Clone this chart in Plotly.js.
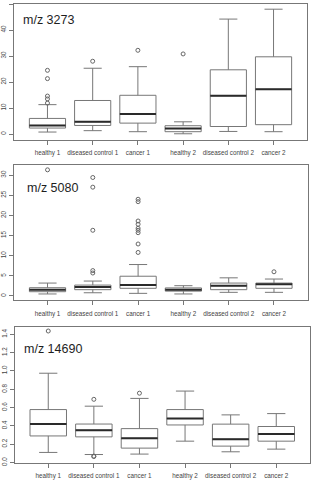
<!DOCTYPE html>
<html>
<head>
<meta charset="utf-8">
<script src="https://cdn.plot.ly/plotly-3.0.1.min.js"></script>
<style>
  html, body { margin: 0; padding: 0; background: #fff; }
  #chart { width: 313px; height: 480px; }
</style>
</head>
<body>
<div id="chart"></div>
<script>
// Group labels shared by all three peaks
const groups = ["healthy 1", "diseased control 1", "cancer 1", "healthy 2", "diseased control 2", "cancer 2"];
const positions = [1, 2, 3, 4, 5, 6];

// m/z 3273 — box statistics per group
const mz3273Low    = [0.77, 1.3, 0.9, 0.1, 1.0, 0.9];
const mz3273Q1     = [2.3, 3.3, 4.2, 0.9, 2.9, 3.6];
const mz3273Median = [3.3, 4.7, 7.7, 2.1, 14.7, 17.2];
const mz3273Q3     = [6.0, 12.9, 14.9, 3.2, 24.7, 29.7];
const mz3273High   = [11.3, 25.3, 25.9, 4.7, 44.2, 48.0];
const mz3273Out    = [[11.9, 13.5, 14.6, 21.3, 24.5], [28.0], [32.2], [30.8], [], []];

// m/z 5080 — box statistics per group
const mz5080Low    = [0.5, 0.8, 0.65, 0.5, 0.9, 0.9];
const mz5080Q1     = [1.06, 1.56, 1.9, 1.2, 1.56, 1.9];
const mz5080Median = [1.56, 2.2, 2.7, 1.56, 2.55, 2.9];
const mz5080Q3     = [2.05, 2.7, 4.9, 2.0, 3.2, 3.2];
const mz5080High   = [3.2, 3.7, 7.8, 2.55, 4.5, 4.2];
const mz5080Out    = [[31.3], [5.7, 6.3, 16.3, 27.0, 29.4],
                      [10.8, 12.9, 15.7, 16.3, 16.8, 17.8, 18.6, 23.4, 24.0], [], [], [6.0]];

// m/z 14690 — box statistics per group
const mz14690Low    = [0.11, 0.087, 0.092, 0.233, 0.117, 0.146];
const mz14690Q1     = [0.29, 0.28, 0.157, 0.41, 0.179, 0.233];
const mz14690Median = [0.42, 0.353, 0.264, 0.48, 0.255, 0.31];
const mz14690Q3     = [0.578, 0.42, 0.37, 0.578, 0.419, 0.393];
const mz14690High   = [0.975, 0.615, 0.70, 0.78, 0.52, 0.534];
const mz14690Out    = [[1.436], [0.065, 0.07, 0.69], [0.757], [], [], []];

const panelTitles = ["m/z 3273", "m/z 5080", "m/z 14690"];

const BOX_W = 0.8;
const LINE = "#777";
const TEXT = "#444";
const FONT = "Liberation Sans, Arial, sans-serif";

function panelTraces(idx, low, q1, med, q3, high, outs) {
  const xa = idx === 1 ? "x" : "x" + idx;
  const ya = idx === 1 ? "y" : "y" + idx;
  const box = {
    type: "box", xaxis: xa, yaxis: ya,
    x: positions, q1: q1, median: med, q3: q3,
    lowerfence: low, upperfence: high,
    width: BOX_W, whiskerwidth: 0.5,
    fillcolor: "rgba(255,255,255,0)",
    line: { color: LINE, width: 1 },
    boxpoints: false, hoverinfo: "skip", showlegend: false
  };
  // thick median bars drawn over each box
  const mx = [], my = [];
  positions.forEach((p, i) => {
    mx.push(p - BOX_W / 2, p + BOX_W / 2, null);
    my.push(med[i], med[i], null);
  });
  const medians = {
    type: "scatter", mode: "lines", xaxis: xa, yaxis: ya,
    x: mx, y: my, line: { color: "#2a2a2a", width: 2 },
    hoverinfo: "skip", showlegend: false
  };
  const ox = [], oy = [];
  outs.forEach((list, i) => list.forEach(v => { ox.push(positions[i]); oy.push(v); }));
  const outliers = {
    type: "scatter", mode: "markers", xaxis: xa, yaxis: ya,
    x: ox, y: oy,
    marker: { symbol: "circle-open", size: 4, color: "#666", line: { width: 1, color: "#666" } },
    hoverinfo: "skip", showlegend: false
  };
  return [box, medians, outliers];
}

const data = [].concat(
  panelTraces(1, mz3273Low, mz3273Q1, mz3273Median, mz3273Q3, mz3273High, mz3273Out),
  panelTraces(2, mz5080Low, mz5080Q1, mz5080Median, mz5080Q3, mz5080High, mz5080Out),
  panelTraces(3, mz14690Low, mz14690Q1, mz14690Median, mz14690Q3, mz14690High, mz14690Out)
);

const W = 313, H = 480;
function xAxis(left, right) {
  return {
    domain: [left / W, right / W], range: [0.26, 6.74],
    tickvals: positions, ticktext: groups,
    ticks: "outside", ticklen: 4, tickcolor: LINE, tickwidth: 1,
    ticklabelstandoff: 3,
    showline: true, mirror: true, linecolor: LINE, linewidth: 1,
    showgrid: false, zeroline: false,
    tickfont: { family: FONT, size: 6.3, color: TEXT }
  };
}
function yAxis(anchor, top, bottom, range, dtick, fmt) {
  return {
    anchor: anchor,
    domain: [1 - bottom / H, 1 - top / H], range: range,
    tick0: 0, dtick: dtick, tickformat: fmt, tickangle: -90,
    ticks: "outside", ticklen: 4, tickcolor: LINE, tickwidth: 1,
    showline: true, mirror: true, linecolor: LINE, linewidth: 1,
    showgrid: false, zeroline: false,
    tickfont: { family: FONT, size: 6.3, color: TEXT }
  };
}

const layout = {
  width: W, height: H,
  margin: { l: 0, r: 0, t: 0, b: 0 },
  paper_bgcolor: "#fff", plot_bgcolor: "#fff",
  showlegend: false,
  xaxis:  Object.assign(xAxis(14, 307), { anchor: "y" }),
  yaxis:  yAxis("x", 4, 139.5, [-2.1, 50.0], 10, "d"),
  xaxis2: Object.assign(xAxis(14, 307.5), { anchor: "y2" }),
  yaxis2: yAxis("x2", 165, 300, [-1.0, 32.5], 5, "d"),
  xaxis3: Object.assign(xAxis(14.5, 310), { anchor: "y3" }),
  yaxis3: yAxis("x3", 326.7, 462.5, [0.0, 1.483], 0.2, ".1f"),
  annotations: [
    { xref: "x domain", yref: "y domain", x: 0.025, y: 0.882 },
    { xref: "x2 domain", yref: "y2 domain", x: 0.039, y: 0.83 },
    { xref: "x3 domain", yref: "y3 domain", x: 0.024, y: 0.836 }
  ].map((a, i) => Object.assign(a, {
    text: panelTitles[i], showarrow: false,
    xanchor: "left", yanchor: "middle",
    font: { family: FONT, size: 12.5, color: "#1e1e1e" }
  }))
};

Plotly.newPlot("chart", data, layout, { staticPlot: true, displayModeBar: false });
</script>
</body>
</html>
